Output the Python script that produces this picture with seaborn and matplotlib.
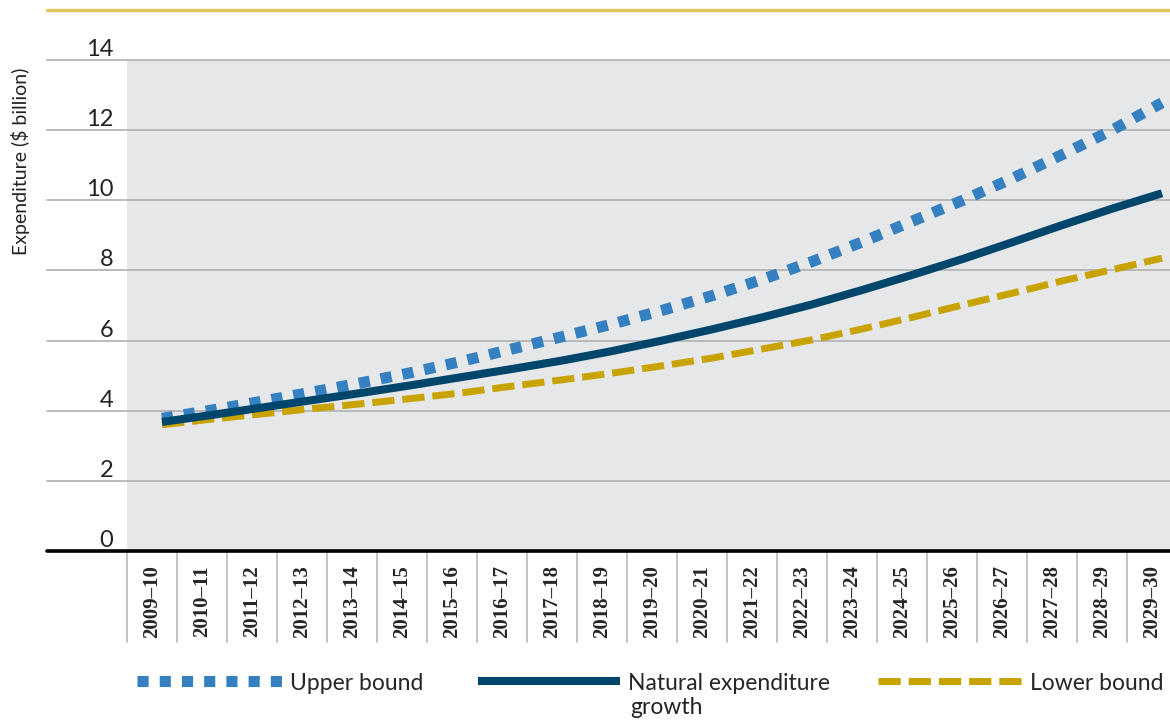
import matplotlib.pyplot as plt
import matplotlib.lines as mlines
import pandas as pd
import seaborn as sns
import numpy as np

years = ['2009–10', '2010–11', '2011–12', '2012–13', '2013–14', '2014–15', '2015–16',
         '2016–17', '2017–18', '2018–19', '2019–20', '2020–21', '2021–22', '2022–23',
         '2023–24', '2024–25', '2025–26', '2026–27', '2027–28', '2028–29', '2029–30']
upper = [3.78, 4.02, 4.27, 4.53, 4.80, 5.09, 5.41, 5.76, 6.11, 6.47, 6.86,
         7.28, 7.74, 8.25, 8.81, 9.40, 9.99, 10.62, 11.30, 12.00, 12.78]
natural = [3.68, 3.88, 4.09, 4.30, 4.51, 4.73, 4.96, 5.19, 5.43, 5.70, 6.00,
           6.32, 6.66, 7.03, 7.44, 7.87, 8.32, 8.80, 9.29, 9.76, 10.20]
lower = [3.60, 3.76, 3.91, 4.06, 4.20, 4.35, 4.51, 4.70, 4.88, 5.07, 5.28,
         5.50, 5.76, 6.02, 6.33, 6.66, 7.01, 7.35, 7.70, 8.02, 8.35]
y_ticks = [0, 2, 4, 6, 8, 10, 12, 14]

W, H = 1170, 722
GREY = '#e6e7e8'
GRID = '#b5b5b5'
BLUE = '#3580c0'
NAVY = '#00466c'
GOLD = '#c8a300'
TOPLINE = '#ddc660'


def create_plot():
	sns.set_style('white')
	plt.rcParams['font.family'] = ['Lato', 'DejaVu Sans']

	df = pd.DataFrame({'pos': np.arange(len(years)) + 0.2,
	                   'Upper bound': upper,
	                   'Natural expenditure growth': natural,
	                   'Lower bound': lower})

	fig = plt.figure(figsize=(W / 100, H / 100), dpi=100)
	ax = fig.add_axes([127 / W, (H - 551) / H, 1050 / W, 491 / H])
	ax.set_facecolor(GREY)
	for s in ax.spines.values():
		s.set_visible(False)

	# gridlines run out into the label area
	left = -(127 - 47) / 1050
	for v in y_ticks[1:]:
		ax.axhline(v, xmin=left, xmax=1, color=GRID, lw=1.3, clip_on=False, zorder=1)
	ax.axhline(0, xmin=left, xmax=1, color='black', lw=2.6, clip_on=False, zorder=6)
	for b in np.arange(-0.5, len(years), 1):
		ax.axvline(b, ymin=-(642 - 551) / 491, ymax=0, color='#c4c4c4', lw=1.4, clip_on=False)

	sns.lineplot(data=df, x='pos', y='Lower bound', ax=ax, color=GOLD, lw=5, zorder=3)
	lo = ax.lines[-1]
	lo.set_dashes((3.2, 1.15))
	lo.set_dash_capstyle('butt')
	sns.lineplot(data=df, x='pos', y='Upper bound', ax=ax, color=BLUE, lw=8, zorder=3)
	up = ax.lines[-1]
	up.set_dashes((1, 1))
	up.set_dash_capstyle('butt')
	sns.lineplot(data=df, x='pos', y='Natural expenditure growth', ax=ax, color=NAVY, lw=5.8, zorder=4)
	nat = ax.lines[-1]
	nat.set_solid_capstyle('butt')

	ax.set_xlim(-0.5, len(years) - 0.5)
	ax.set_ylim(0, 14)
	ax.set_xlabel('')
	ax.set_ylabel('')

	ax.set_xticks(np.arange(len(years)))
	ax.set_xticklabels(years, rotation=90, family='Liberation Serif', weight='bold', fontsize=15)
	ax.tick_params(axis='x', length=0, pad=10)
	for lbl in ax.get_xticklabels():
		lbl.set_va('top')

	ax.set_yticks(y_ticks)
	ax.set_yticklabels([str(v) for v in y_ticks], fontsize=17, color='#222222')
	ax.tick_params(axis='y', length=0, pad=10)
	for lbl in ax.get_yticklabels():
		lbl.set_va('bottom')

	fig.text(20 / W, 1 - 161 / H, 'Expenditure ($ billion)', rotation=90,
	         ha='center', va='center', fontsize=14, color='#222222')

	fig.add_artist(mlines.Line2D([47 / W, 1], [1 - 9.5 / H] * 2, color=TOPLINE, lw=2.5))

	fs = 16.5
	em = fs * 100 / 72
	common = dict(loc='center left', frameon=False, borderpad=0, borderaxespad=0,
	              handletextpad=8 / em, fontsize=fs)
	fig.legend(handles=[up], labels=['Upper bound'], bbox_to_anchor=(137 / W, 1 - 683 / H),
	           handlelength=145 / em, **common)
	fig.legend(handles=[nat], labels=['Natural expenditure'], bbox_to_anchor=(478 / W, 1 - 683 / H),
	           handlelength=142 / em, **common)
	fig.text(630 / W, 1 - 707 / H, 'growth', ha='left', va='center', fontsize=fs, color='#222222')
	fig.legend(handles=[lo], labels=['Lower bound'], bbox_to_anchor=(878 / W, 1 - 683 / H),
	           handlelength=144 / em, **common)

	plt.savefig('out.png', dpi=100)


create_plot()
